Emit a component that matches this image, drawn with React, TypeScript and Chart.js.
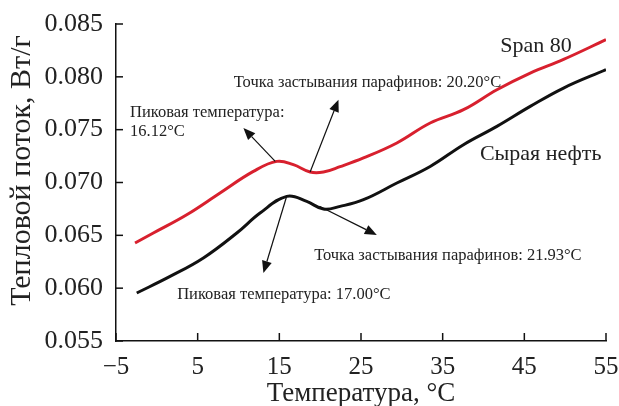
import React, { useEffect, useRef } from "react";
import { Chart, registerables } from "chart.js";

Chart.register(...registerables);

// ---- data ----
const spanX = [-2.67, -0.43, 3.66, 7.74, 11.82, 14.69, 16.72, 18.77, 20.4, 22.44, 25.3, 29.39, 33.47, 37.55, 41.64, 45.72, 49.8, 55.0];
const spanY = [0.06427, 0.06522, 0.06695, 0.06901, 0.07105, 0.072, 0.07169, 0.07099, 0.07099, 0.0715, 0.07232, 0.07374, 0.07563, 0.07689, 0.07878, 0.08036, 0.08165, 0.08352];

const crudeX = [-2.46, 1.62, 5.7, 9.79, 12.64, 15.91, 18.36, 20.4, 22.44, 25.3, 29.39, 33.47, 37.55, 41.64, 45.72, 49.8, 55.0];
const crudeY = [0.05954, 0.06111, 0.06286, 0.06522, 0.06711, 0.06869, 0.06821, 0.06749, 0.06774, 0.06837, 0.06995, 0.07152, 0.07358, 0.07531, 0.0772, 0.07894, 0.08068];

const seriesNames = ["Span 80", "Сырая нефть"];

const xTicks = [-5, 5, 15, 25, 35, 45, 55];
const yTicks = [0.055, 0.06, 0.065, 0.07, 0.075, 0.08, 0.085];

const xTitle = "Температура, °C";
const yTitle = "Тепловой поток, Вт/г";

// annotation texts anchored in data coordinates
const noteTexts = [
  "Точка застывания парафинов: 20.20°C",
  "Пиковая температура:",
  "16.12°C",
  "Точка застывания парафинов: 21.93°C",
  "Пиковая температура: 17.00°C",
];
const noteX = [25.79, -3.28, -3.28, 35.64, 15.55];
const noteY = [0.07942, 0.07658, 0.07484, 0.06307, 0.05938];
const noteAlign = ["center", "left", "left", "center", "center"];

// series labels
const seriesLabelX = [46.43, 47.0];
const seriesLabelY = [0.08285, 0.07263];

// arrows: tail -> head (data coords)
const arrowFromX = [14.5, 18.77, 15.9, 19.9];
const arrowFromY = [0.0720, 0.0710, 0.0687, 0.06775];
const arrowToX = [10.6, 22.24, 13.05, 26.94];
const arrowToY = [0.07516, 0.07784, 0.06144, 0.06503];

const SERIF = "'Liberation Serif', 'Times New Roman', serif";

const overlayPlugin = {
  id: "overlay",
  afterDraw(chart: any) {
    const { ctx } = chart;
    const xs = chart.scales.x;
    const ys = chart.scales.y;
    const area = chart.chartArea;
    ctx.save();
    // inward ticks
    ctx.strokeStyle = "#111";
    ctx.lineWidth = 1.5;
    xTicks.forEach((v) => {
      const px = xs.getPixelForValue(v);
      ctx.beginPath();
      ctx.moveTo(px, area.bottom);
      ctx.lineTo(px, area.bottom - 8);
      ctx.stroke();
    });
    yTicks.forEach((v) => {
      const py = ys.getPixelForValue(v);
      ctx.beginPath();
      ctx.moveTo(area.left, py);
      ctx.lineTo(area.left + 7, py);
      ctx.stroke();
    });
    // arrows
    ctx.strokeStyle = "#111";
    ctx.fillStyle = "#111";
    ctx.lineWidth = 1.2;
    for (let i = 0; i < arrowFromX.length; i++) {
      const x0 = xs.getPixelForValue(arrowFromX[i]);
      const y0 = ys.getPixelForValue(arrowFromY[i]);
      const x1 = xs.getPixelForValue(arrowToX[i]);
      const y1 = ys.getPixelForValue(arrowToY[i]);
      const ang = Math.atan2(y1 - y0, x1 - x0);
      const hl = 12;
      const hw = 5;
      const bx = x1 - hl * Math.cos(ang);
      const by = y1 - hl * Math.sin(ang);
      ctx.beginPath();
      ctx.moveTo(x0, y0);
      ctx.lineTo(bx, by);
      ctx.stroke();
      ctx.beginPath();
      ctx.moveTo(x1, y1);
      ctx.lineTo(bx + hw * Math.sin(ang), by - hw * Math.cos(ang));
      ctx.lineTo(bx - hw * Math.sin(ang), by + hw * Math.cos(ang));
      ctx.closePath();
      ctx.fill();
    }
    // notes
    ctx.fillStyle = "#222";
    ctx.textBaseline = "middle";
    ctx.font = `16.5px ${SERIF}`;
    noteTexts.forEach((t, i) => {
      ctx.textAlign = noteAlign[i] as CanvasTextAlign;
      ctx.fillText(t, xs.getPixelForValue(noteX[i]), ys.getPixelForValue(noteY[i]));
    });
    ctx.font = `22px ${SERIF}`;
    ctx.textAlign = "center";
    seriesNames.forEach((t, i) => {
      ctx.fillText(t, xs.getPixelForValue(seriesLabelX[i]), ys.getPixelForValue(seriesLabelY[i]));
    });
    // y axis title (drawn manually so it can sit slightly above the axis centre)
    ctx.font = `30px ${SERIF}`;
    ctx.translate(22, (area.top + area.bottom) / 2 - 12);
    ctx.rotate(-Math.PI / 2);
    ctx.textAlign = "center";
    ctx.textBaseline = "middle";
    ctx.fillText(yTitle, 0, 0);
    ctx.restore();
  },
};

export default function App() {
  const ref = useRef<HTMLCanvasElement>(null);
  useEffect(() => {
    if (!ref.current) return;
    const chart = new Chart(ref.current, {
      type: "line",
      data: {
        datasets: [
          {
            label: seriesNames[0],
            data: spanX.map((x, i) => ({ x, y: spanY[i] })),
            borderColor: "#d8202e",
            borderWidth: 3,
            pointRadius: 0,
            tension: 0.4,
            fill: false,
          },
          {
            label: seriesNames[1],
            data: crudeX.map((x, i) => ({ x, y: crudeY[i] })),
            borderColor: "#111111",
            borderWidth: 3,
            pointRadius: 0,
            tension: 0.4,
            fill: false,
          },
        ],
      },
      options: {
        animation: false,
        responsive: false,
        maintainAspectRatio: false,
        layout: { padding: { left: 0, top: 24, right: 13, bottom: 0 } },
        plugins: { legend: { display: false }, tooltip: { enabled: false } },
        scales: {
          x: {
            type: "linear",
            min: -5,
            max: 55,
            afterBuildTicks: (scale: any) => {
              scale.ticks = xTicks.map((v) => ({ value: v }));
            },
            ticks: {
              padding: 11,
              color: "#222",
              font: { family: SERIF, size: 25 },
              callback: (v: any) => (Number(v) < 0 ? "\u2212" + Math.abs(Number(v)) : String(v)),
            },
            grid: { display: true, drawOnChartArea: false, drawTicks: false },
            border: { display: true, color: "#111", width: 1.5 },
            title: {
              display: true,
              text: xTitle,
              color: "#222",
              font: { family: SERIF, size: 27 },
              padding: { top: 0, bottom: -4 },
            },
            afterFit: (scale: any) => {
              scale.height = 65;
              scale.paddingLeft = 0;
              scale.paddingRight = 0;
            },
          },
          y: {
            type: "linear",
            min: 0.055,
            max: 0.085,
            afterBuildTicks: (scale: any) => {
              scale.ticks = yTicks.map((v) => ({ value: v }));
            },
            ticks: {
              padding: 13,
              color: "#222",
              font: { family: SERIF, size: 26 },
              callback: (v: any) => Number(v).toFixed(3),
            },
            grid: { display: true, drawOnChartArea: false, drawTicks: false },
            border: { display: true, color: "#111", width: 1.5 },
            title: { display: false },
            afterFit: (scale: any) => {
              scale.width = 116;
              scale.paddingTop = 0;
              scale.paddingBottom = 0;
            },
          },
        },
      },
      plugins: [overlayPlugin],
    });
    return () => chart.destroy();
  }, []);
  return (
    <div style={{ position: "absolute", left: 0, top: 0, width: 619, height: 406, background: "#fff" }}>
      <canvas ref={ref} width={619} height={406} style={{ width: 619, height: 406, display: "block" }} />
    </div>
  );
}
